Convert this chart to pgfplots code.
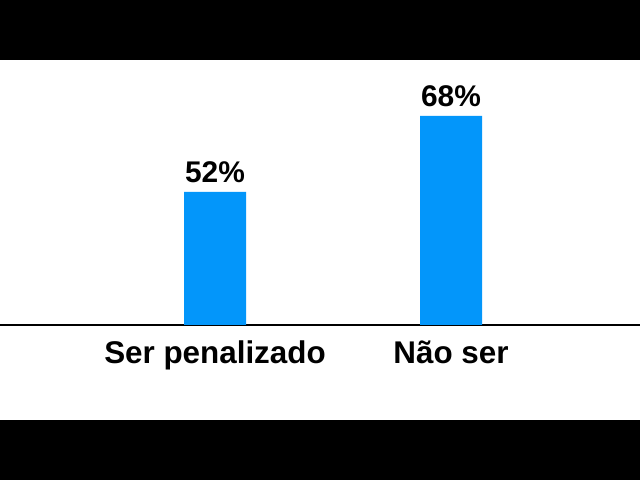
\documentclass[border=0pt]{standalone}
\usepackage{pgfplots}
\pgfplotsset{compat=1.18}
\usepackage{fontspec}
\setmainfont{Liberation Sans}
\definecolor{barblue}{RGB}{3,150,250}
\begin{document}
\begin{tikzpicture}
\useasboundingbox (0,0) rectangle (640bp,480bp);
\fill[white] (0,60bp) rectangle (640bp,420bp);
\fill[black] (0,0) rectangle (640bp,60bp);
\fill[black] (0,420bp) rectangle (640bp,480bp);
\begin{axis}[
  at={(0,155bp)}, anchor=south west,
  scale only axis, width=640bp, height=265bp,
  xmin=-0.911, xmax=1.8008,
  ymin=24, ymax=79.789,
  ybar, bar width=62bp,
  axis x line=bottom, axis y line=none,
  x axis line style={-, line width=2bp, black},
  xtick={0,1}, xticklabels={Ser penalizado, Não ser},
  major tick length=0pt,
  /pgf/number format/assume math mode=true,
  xticklabel style={anchor=base, yshift=-39bp, font=\fontsize{31.5}{31.5}\selectfont\bfseries},
  nodes near coords={\pgfmathprintnumber{\pgfplotspointmeta}\%},
  nodes near coords style={anchor=base, yshift=9bp, font=\fontsize{30}{30}\selectfont\bfseries, black},
  clip=false,
]
\addplot[fill=barblue, draw=none] coordinates {(0,52) (1,68)};
\end{axis}
\end{tikzpicture}
\end{document}
